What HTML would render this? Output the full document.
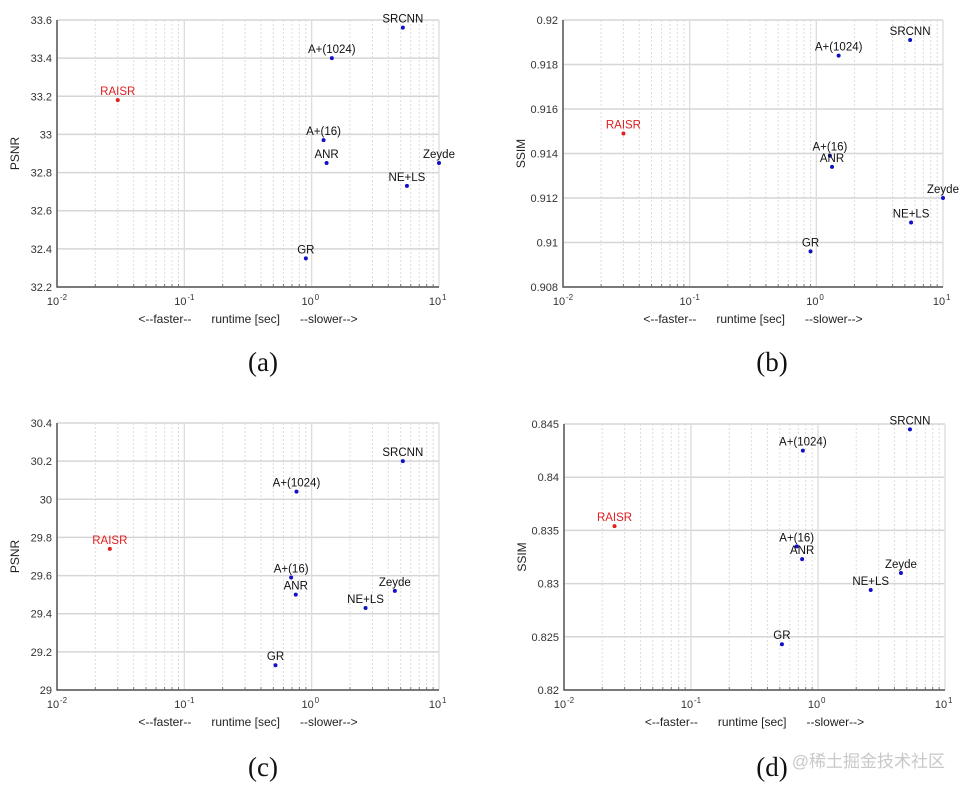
<!DOCTYPE html>
<html><head><meta charset="utf-8"><style>
body{margin:0;background:#fff;width:964px;height:792px;overflow:hidden;font-family:"Liberation Sans",sans-serif}
svg text{font-family:"Liberation Sans",sans-serif}
</style></head><body>
<svg id="fig" width="964" height="792" xmlns="http://www.w3.org/2000/svg"></svg>
<script>
const methods = ["RAISR","SRCNN","A+(1024)","A+(16)","ANR","Zeyde","NE+LS","GR"];
const runtimeA = [0.030,5.2,1.44,1.24,1.31,10,5.6,0.9];
const psnrA = [33.18,33.56,33.40,32.97,32.85,32.85,32.73,32.35];
const runtimeB = [0.030,5.5,1.5,1.28,1.33,10,5.6,0.9];
const ssimB = [0.9149,0.9191,0.9184,0.9139,0.9134,0.9120,0.9109,0.9096];
const runtimeC = [0.026,5.2,0.76,0.69,0.75,4.5,2.65,0.52];
const psnrC = [29.74,30.2,30.04,29.59,29.50,29.52,29.43,29.13];
const runtimeD = [0.025,5.3,0.76,0.68,0.75,4.5,2.6,0.52];
const ssimD = [0.8354,0.8445,0.8425,0.8335,0.8323,0.8310,0.8294,0.8243];
const yTicksA = ["32.2","32.4","32.6","32.8","33","33.2","33.4","33.6"];
const yTicksB = ["0.908","0.91","0.912","0.914","0.916","0.918","0.92"];
const yTicksC = ["29","29.2","29.4","29.6","29.8","30","30.2","30.4"];
const yTicksD = ["0.82","0.825","0.83","0.835","0.84","0.845"];
const xTickExps = [-2,-1,0,1];

const NS="http://www.w3.org/2000/svg";
const svg=document.getElementById('fig');
function mk(tag,attrs,parent){const e=document.createElementNS(NS,tag);for(const k in attrs)e.setAttribute(k,attrs[k]);(parent||svg).appendChild(e);return e;}

function panel(id,L,R,T,B,xs,ys,yTicks,yLabel,caption,capX,capY){
  const g=mk('g',{});
  
  
  const ymin=parseFloat(yTicks[0]),ymax=parseFloat(yTicks[yTicks.length-1]);
  const xS=v=>L+(Math.log10(v)+2)/3*(R-L);
  const yS=v=>B-(v-ymin)/(ymax-ymin)*(B-T);
  for(let d=-2;d<1;d++)for(let m=2;m<10;m++){
    const x=xS(m*Math.pow(10,d));
    const l=mk('line',{x1:x,x2:x,y1:T,y2:B,stroke:'#dcdcdc','stroke-width':1,'stroke-dasharray':'2,2'},g);
    
    
    mk('line',{x1:x,x2:x,y1:B-3,y2:B,stroke:'#777','stroke-width':1},g);
  }
  yTicks.forEach(t=>{
    const y=yS(parseFloat(t));
    const l=mk('line',{x1:L,x2:R,y1:y,y2:y,stroke:'#d6d6d6','stroke-width':1.5},g);
    
    
    const tx=mk('text',{x:L-5,y:y+4,'text-anchor':'end','font-size':11,fill:'#333'},g);
    tx.textContent=t;
    
    
  });
  xTickExps.forEach(e=>{
    const x=xS(Math.pow(10,e));
    mk('line',{x1:x,x2:x,y1:T,y2:B,stroke:'#dcdcdc','stroke-width':1.3},g);
    const tx=mk('text',{x:x-4,y:B+18,'text-anchor':'middle','font-size':11,fill:'#333'},g);
    tx.textContent='10';
    
    
    const sp=mk('text',{x:x+3,y:B+13,'text-anchor':'start','font-size':8,fill:'#333'},g);
    sp.textContent=String(e);
  });
  const ax=mk('path',{d:`M${L},${T}V${B}H${R}`,fill:'none',stroke:'#555','stroke-width':1.5},g);
  
  
  const xl=mk('text',{x:(L+R)/2,y:B+36,'text-anchor':'middle','font-size':12,fill:'#222',style:'white-space:pre'},g);
  xl.textContent='<--faster--      runtime [sec]      --slower-->';
  
  
  const yl=mk('text',{x:0,y:0,'text-anchor':'middle','font-size':12,fill:'#222',transform:`translate(${L-38},${(T+B)/2}) rotate(-90)`},g);
  yl.textContent=yLabel;
  
  
  methods.forEach((m,i)=>{
    const col=i===0?'#e02020':'#1010c8';
    const cx=xS(xs[i]),cy=yS(ys[i]);
    const c=mk('circle',{cx:cx,cy:cy,r:2,fill:col},g);
    
    
    const t=mk('text',{x:cx,y:cy-5,'text-anchor':'middle','font-size':11.5,fill:i===0?'#e02020':'#111'},g);
    t.textContent=m;
    
    
  });
  const cap=mk('text',{x:capX,y:capY,'text-anchor':'middle','font-size':27,fill:'#111',style:'font-family:"Liberation Serif",serif'});
  cap.textContent=caption;
  
  
}
panel('a',57,439,20,287,runtimeA,psnrA,yTicksA,'PSNR','(a)',263,371);
panel('b',563,943,20,287,runtimeB,ssimB,yTicksB,'SSIM','(b)',772,371);
panel('c',57,439,423,690,runtimeC,psnrC,yTicksC,'PSNR','(c)',263,776);
panel('d',564,945,424,690,runtimeD,ssimD,yTicksD,'SSIM','(d)',772,776);
const wm=mk('text',{x:945,y:767,'text-anchor':'end','font-size':17,fill:'#c8c8c8',style:'font-family:"Liberation Sans","Noto Sans CJK SC",sans-serif'});
wm.textContent='@稀土掘金技术社区';


</script>
</body></html>
